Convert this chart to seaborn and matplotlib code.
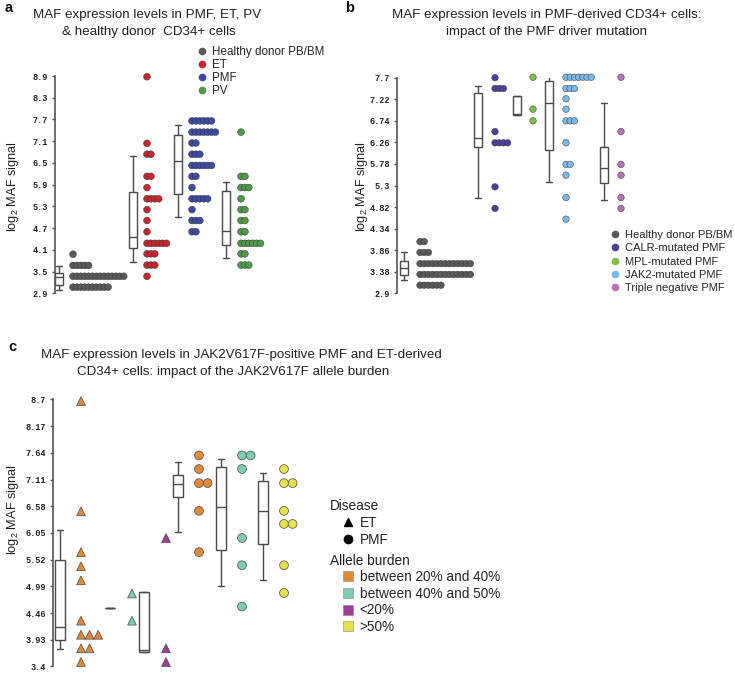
import numpy as np
import pandas as pd
import matplotlib.pyplot as plt
import seaborn as sns
from matplotlib.lines import Line2D

sns.set_theme(style="white")
plt.rcParams['font.family'] = ['Liberation Sans', 'DejaVu Sans']
plt.rcParams['mathtext.fontset'] = 'custom'
plt.rcParams['mathtext.rm'] = 'Liberation Sans'
plt.rcParams['mathtext.it'] = 'Liberation Sans:italic'

# ---------------- data: panel a ----------------
groups_a = ['Healthy donor PB/BM', 'ET', 'PMF', 'PV']
colors_a = ['#58595b', '#c1272d', '#3a4aa5', '#4f9a46']
healthy_a = [3.98] + [3.67] * 5 + [3.37] * 14 + [3.07] * 10
et_a = [8.88, 7.04] + [6.74] * 2 + [6.13] * 2 + [5.82] + [5.51] * 4 + [5.21, 4.91, 4.60] \
    + [4.28] * 6 + [3.99] * 3 + [3.68] * 3 + [3.37]
pmf_a = [7.66] * 6 + [7.35] * 7 + [7.05] * 2 + [6.74] * 3 + [6.43] * 6 + [6.13] * 2 + [5.82] \
    + [5.51] * 5 + [5.21] + [4.91] * 3 + [4.60] * 2
pv_a = [7.35] + [6.13] * 2 + [5.82] * 3 + [5.51] + [5.21] * 2 + [4.91] * 2 + [4.60] * 2 \
    + [4.28] * 6 + [3.99] * 2 + [3.68] * 3
# whislo, q1, median, q3, whishi
box_a = [[2.98, 3.13, 3.34, 3.47, 3.65],
         [3.77, 4.14, 4.46, 5.71, 6.69],
         [5.02, 5.63, 6.55, 7.27, 7.56],
         [3.88, 4.22, 4.62, 5.72, 5.98]]
ticks_a = [2.9, 3.5, 4.1, 4.7, 5.3, 5.9, 6.5, 7.1, 7.7, 8.3, 8.9]

# ---------------- data: panel b ----------------
groups_b = ['Healthy donor PB/BM', 'CALR-mutated PMF', 'MPL-mutated PMF',
            'JAK2-mutated PMF', 'Triple negative PMF']
colors_b = ['#58595b', '#4f3f98', '#7dbf4a', '#7cb8e6', '#b873b4']
healthy_b = [4.05] * 2 + [3.81] * 3 + [3.56] * 13 + [3.32] * 13 + [3.08] * 6
calr_b = [7.70] + [7.46] * 3 + [6.50] + [6.25] * 4 + [5.27, 4.79]
mpl_b = [7.71, 7.00, 6.74]
jak2_b = [7.71] * 7 + [7.46] * 3 + [7.23, 7.00] + [6.74] * 3 + [6.25] + [5.77] * 2 \
    + [5.53, 5.03, 4.55]
tn_b = [7.71, 6.50, 5.77, 5.53, 5.03, 4.79]
box_b = [[3.19, 3.31, 3.47, 3.62, 3.81],
         [5.03, 6.15, 6.35, 7.37, 7.52],
         [6.88, 6.88, 6.90, 7.30, 7.30],
         [5.37, 6.09, 7.13, 7.63, 7.82],
         [4.98, 5.35, 5.70, 6.16, 7.14]]
ticks_b = [2.9, 3.38, 3.86, 4.34, 4.82, 5.3, 5.78, 6.26, 6.74, 7.22, 7.7]

# ---------------- data: panel c ----------------
burdens = ['between 20% and 40%', 'between 40% and 50%', '<20%', '>50%']
colors_c = ['#dd8a3a', '#80c9b3', '#9d3d96', '#e5e24e']
disease_c = ['ET', 'ET', 'ET', 'PMF', 'PMF', 'PMF']
burden_c = ['between 20% and 40%', 'between 40% and 50%', '<20%',
            'between 20% and 40%', 'between 40% and 50%', '>50%']
et_2040 = [8.67, 6.48, 5.67, 5.39, 5.11, 4.31] + [4.03] * 3 + [3.76] * 2 + [3.49]
et_4050 = [4.85, 4.31]
et_lt20 = [5.95, 3.76, 3.49]
pmf_2040 = [7.59, 7.32] + [7.04] * 2 + [6.49, 5.67]
pmf_4050 = [7.59] * 2 + [7.32, 5.95, 5.41, 4.59]
pmf_gt50 = [7.32] + [7.04] * 2 + [6.49] + [6.23] * 2 + [5.41, 4.86]
box_c = [[3.75, 3.93, 4.18, 5.52, 6.11],
         [4.57, 4.57, 4.57, 4.57, 4.57],
         [3.68, 3.68, 3.73, 4.87, 4.87],
         [6.07, 6.77, 7.02, 7.21, 7.46],
         [4.99, 5.71, 6.57, 7.36, 7.52],
         [5.11, 5.84, 6.48, 7.09, 7.25]]
ticks_c = [3.4, 3.93, 4.46, 4.99, 5.52, 6.05, 6.58, 7.11, 7.64, 8.17, 8.7]

W, H = 735, 674
fig = plt.figure(figsize=(W / 100, H / 100), dpi=100)


def add_axes(left, top, bottom, width):
    return fig.add_axes([left / W, 1 - bottom / H, width / W, (bottom - top) / H])


def dot_frame(values, starts, step, extra):
    parts = []
    for i, (vals, x0) in enumerate(zip(values, starts)):
        d = pd.DataFrame({'value': vals})
        d['x'] = x0 + d.groupby('value').cumcount() * step
        for k, v in extra.items():
            d[k] = v[i]
        parts.append(d)
    return pd.concat(parts, ignore_index=True)


def draw_boxes(ax, box, positions, width):
    stats = [dict(whislo=b[0], q1=b[1], med=b[2], q3=b[3], whishi=b[4], fliers=[]) for b in box]
    lc = '#4a4a4a'
    ax.bxp(stats, positions=positions, widths=width, showfliers=False, patch_artist=True,
           manage_ticks=False, capwidths=width * 0.75,
           boxprops=dict(facecolor='white', edgecolor=lc, linewidth=1.0),
           medianprops=dict(color=lc, linewidth=1.0),
           whiskerprops=dict(color=lc, linewidth=1.0),
           capprops=dict(color=lc, linewidth=1.0))


def style_axis(ax, ticks, xmax):
    ax.set_ylim(ticks[0], ticks[-1])
    ax.set_xlim(0, xmax)
    for s in ['top', 'right', 'bottom']:
        ax.spines[s].set_visible(False)
    ax.spines['left'].set_color('#555555')
    ax.spines['left'].set_linewidth(1.2)
    ax.set_xticks([])
    ax.set_yticks(ticks)
    ax.set_yticklabels([f'{t:g}' for t in ticks])
    ax.tick_params(axis='y', left=True, length=2, width=1, color='#555555', pad=3,
                   labelsize=6.2, labelcolor='#222222')
    for lab in ax.get_yticklabels():
        lab.set_fontfamily('Liberation Mono')
        lab.set_fontweight('bold')
    ax.set_xlabel('')
    ax.set_ylabel('')
    ax.patch.set_alpha(0)


# ---------------- panel a ----------------
ax_a = add_axes(55, 76, 293.3, 270)
df_a = dot_frame([healthy_a, et_a, pmf_a, pv_a], [18, 92, 137, 186], 3.9,
                 {'group': groups_a})
draw_boxes(ax_a, box_a, [4, 78, 123, 171], 8)
sns.scatterplot(data=df_a, x='x', y='value', hue='group', palette=dict(zip(groups_a, colors_a)),
                s=24, edgecolor='#3a3a3a', linewidth=0.35, legend=False, ax=ax_a,
                clip_on=False, zorder=3)
style_axis(ax_a, ticks_a, 270)

# ---------------- panel b ----------------
ax_b = add_axes(397, 77.7, 293.3, 250)
df_b = dot_frame([healthy_b, calr_b, mpl_b, jak2_b, tn_b], [23, 98, 136, 169, 224], 4.2,
                 {'group': groups_b})
draw_boxes(ax_b, box_b, [7, 81, 120, 152, 207], 8)
sns.scatterplot(data=df_b, x='x', y='value', hue='group', palette=dict(zip(groups_b, colors_b)),
                s=22, edgecolor='#3a3a3a', linewidth=0.35, legend=False, ax=ax_b,
                clip_on=False, zorder=3)
style_axis(ax_b, ticks_b, 250)

# ---------------- panel c ----------------
ax_c = add_axes(52.7, 399.5, 666.5, 260)
df_c = dot_frame([et_2040, et_4050, et_lt20, pmf_2040, pmf_4050, pmf_gt50],
                 [28.3, 79.3, 113.3, 146.3, 189.3, 231.3], 8.6,
                 {'disease': disease_c, 'burden': burden_c})
draw_boxes(ax_c, box_c, [7.3, 57.3, 91.3, 125.3, 168.3, 210.3], 9.3)
sns.scatterplot(data=df_c, x='x', y='value', hue='burden', style='disease',
                palette=dict(zip(burdens, colors_c)), markers={'ET': '^', 'PMF': 'o'},
                s=40, edgecolor='#4a4a4a', linewidth=0.5, legend=False, ax=ax_c,
                clip_on=False, zorder=3)
style_axis(ax_c, ticks_c, 260)

# ---------------- text ----------------
title_kw = dict(ha='center', va='center', fontsize=9.6, color='#222222')
fig.text(147 / W, 1 - 15 / H, 'MAF expression levels in PMF, ET, PV', **title_kw)
fig.text(149 / W, 1 - 32 / H, '& healthy donor  CD34+ cells', **title_kw)
fig.text(547 / W, 1 - 15 / H, 'MAF expression levels in PMF-derived CD34+ cells:', **title_kw)
fig.text(547 / W, 1 - 32 / H, 'impact of the PMF driver mutation', **title_kw)
fig.text(241 / W, 1 - 355 / H,
         'MAF expression levels in JAK2V617F-positive PMF and ET-derived', **title_kw)
fig.text(233 / W, 1 - 372 / H,
         'CD34+ cells: impact of the JAK2V617F allele burden', **title_kw)

letter_kw = dict(ha='center', va='center', fontsize=10.5, fontweight='bold', color='#111111')
fig.text(9 / W, 1 - 8 / H, 'a', **letter_kw)
fig.text(350 / W, 1 - 8 / H, 'b', **letter_kw)
fig.text(12 / W, 1 - 347 / H, 'c', **letter_kw)

ylab_kw = dict(ha='center', va='center', rotation=90, fontsize=9.2, color='#222222')
fig.text(13 / W, 1 - 187 / H, r'log$_2$ MAF signal', **ylab_kw)
fig.text(362 / W, 1 - 187 / H, r'log$_2$ MAF signal', **ylab_kw)
fig.text(13 / W, 1 - 510 / H, r'log$_2$ MAF signal', **ylab_kw)

# ---------------- legends ----------------
leg_kw = dict(loc='upper left', bbox_transform=fig.transFigure, frameon=False, borderpad=0,
              borderaxespad=0, handlelength=0.8, handletextpad=0.5, fontsize=8.4)
h_a = [Line2D([], [], marker='o', ls='', color=c, markersize=4.5) for c in colors_a]
leg_a = ax_a.legend(h_a, groups_a, bbox_to_anchor=(197 / W, 1 - 46 / H), labelspacing=0.08,
                    **leg_kw)

h_b = [Line2D([], [], marker='o', ls='', color=c, markersize=4.5) for c in colors_b]
ax_b.legend(h_b, groups_b, bbox_to_anchor=(611 / W, 1 - 230 / H), labelspacing=0.3,
            **dict(leg_kw, fontsize=8.0))

fig.text(330 / W, 1 - 506 / H, 'Disease', ha='left', va='center', fontsize=9.8, color='#222222')
fig.text(330 / W, 1 - 561 / H, 'Allele burden', ha='left', va='center', fontsize=9.8,
         color='#222222')
leg_c_kw = dict(leg_kw, fontsize=9.8, handlelength=0.9, handletextpad=0.4, labelspacing=0.2)
h_dis = [Line2D([], [], marker=m, ls='', color='black', markersize=6) for m in ['^', 'o']]
leg_d = ax_c.legend(h_dis, ['ET', 'PMF'], bbox_to_anchor=(342 / W, 1 - 516 / H), **leg_c_kw)
ax_c.add_artist(leg_d)
h_bur = [Line2D([], [], marker='s', ls='', markerfacecolor=c, markeredgecolor='#888888',
                markeredgewidth=0.4, markersize=6.5) for c in colors_c]
ax_c.legend(h_bur, burdens, bbox_to_anchor=(342 / W, 1 - 570 / H), **leg_c_kw)

fig.savefig('out.png', dpi=100)
